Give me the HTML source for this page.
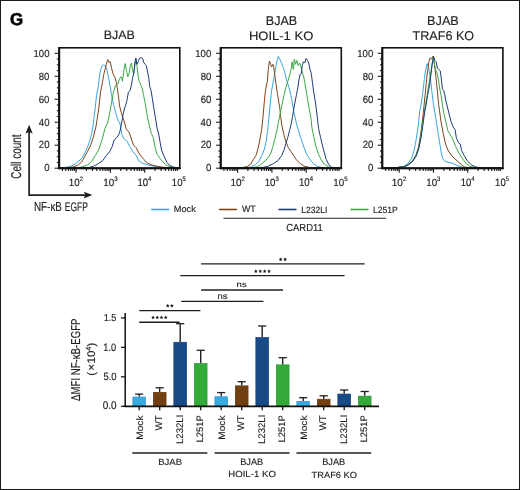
<!DOCTYPE html><html><head><meta charset="utf-8"><style>html,body{margin:0;padding:0;background:#fff;overflow:hidden}svg{display:block;will-change:transform}text{font-family:"Liberation Sans",sans-serif;fill:#231f20;stroke:#231f20;stroke-width:0.15px;text-rendering:geometricPrecision}</style></head><body>
<svg width="520" height="490" viewBox="0 0 520 490">
<rect x="0" y="0" width="520" height="490" fill="#fff"/>
<rect x="0.5" y="0.5" width="519" height="489" fill="none" stroke="#1a1a1a" stroke-width="1"/>
<g id="f_G" transform="matrix(0.9406,0,0,0.9542,0.681,0.932)"><text x="10" y="24.8" font-size="18" font-weight="bold" style="fill:#000;stroke:#000;stroke-width:0.6px">G</text></g>
<line x1="54.6" y1="168.2" x2="59.2" y2="168.2" stroke="#231f20" stroke-width="1.1"/>
<g id="f_yl0_0" transform="matrix(1.0000,0,0,1.0682,0.284,-12.072)"><text x="49.2" y="171.5" font-size="9.6" text-anchor="end">0</text></g>
<line x1="56.8" y1="162.45" x2="59.2" y2="162.45" stroke="#231f20" stroke-width="1.1"/>
<line x1="56.8" y1="156.71" x2="59.2" y2="156.71" stroke="#231f20" stroke-width="1.1"/>
<line x1="56.8" y1="150.96" x2="59.2" y2="150.96" stroke="#231f20" stroke-width="1.1"/>
<line x1="54.6" y1="145.22" x2="59.2" y2="145.22" stroke="#231f20" stroke-width="1.1"/>
<g id="f_yl0_20" transform="matrix(1.0000,0,0,1.0969,0.305,-14.692)"><text x="49.2" y="148.52" font-size="9.6" text-anchor="end">20</text></g>
<line x1="56.8" y1="139.47" x2="59.2" y2="139.47" stroke="#231f20" stroke-width="1.1"/>
<line x1="56.8" y1="133.73" x2="59.2" y2="133.73" stroke="#231f20" stroke-width="1.1"/>
<line x1="56.8" y1="127.98" x2="59.2" y2="127.98" stroke="#231f20" stroke-width="1.1"/>
<line x1="54.6" y1="122.24" x2="59.2" y2="122.24" stroke="#231f20" stroke-width="1.1"/>
<g id="f_yl0_40" transform="matrix(1.0000,0,0,1.0744,0.280,-8.987)"><text x="49.2" y="125.54" font-size="9.6" text-anchor="end">40</text></g>
<line x1="56.8" y1="116.49" x2="59.2" y2="116.49" stroke="#231f20" stroke-width="1.1"/>
<line x1="56.8" y1="110.75" x2="59.2" y2="110.75" stroke="#231f20" stroke-width="1.1"/>
<line x1="56.8" y1="105" x2="59.2" y2="105" stroke="#231f20" stroke-width="1.1"/>
<line x1="54.6" y1="99.26" x2="59.2" y2="99.26" stroke="#231f20" stroke-width="1.1"/>
<g id="f_yl0_60" transform="matrix(1.0000,0,0,1.0623,0.256,-6.023)"><text x="49.2" y="102.56" font-size="9.6" text-anchor="end">60</text></g>
<line x1="56.8" y1="93.51" x2="59.2" y2="93.51" stroke="#231f20" stroke-width="1.1"/>
<line x1="56.8" y1="87.77" x2="59.2" y2="87.77" stroke="#231f20" stroke-width="1.1"/>
<line x1="56.8" y1="82.02" x2="59.2" y2="82.02" stroke="#231f20" stroke-width="1.1"/>
<line x1="54.6" y1="76.28" x2="59.2" y2="76.28" stroke="#231f20" stroke-width="1.1"/>
<g id="f_yl0_80" transform="matrix(1.0000,0,0,1.0652,0.268,-4.799)"><text x="49.2" y="79.58" font-size="9.6" text-anchor="end">80</text></g>
<line x1="56.8" y1="70.53" x2="59.2" y2="70.53" stroke="#231f20" stroke-width="1.1"/>
<line x1="56.8" y1="64.79" x2="59.2" y2="64.79" stroke="#231f20" stroke-width="1.1"/>
<line x1="56.8" y1="59.04" x2="59.2" y2="59.04" stroke="#231f20" stroke-width="1.1"/>
<line x1="54.6" y1="53.3" x2="59.2" y2="53.3" stroke="#231f20" stroke-width="1.1"/>
<g id="f_yl0_100" transform="matrix(1.0000,0,0,1.0646,0.292,-3.258)"><text x="49.2" y="56.6" font-size="9.6" text-anchor="end">100</text></g>
<line x1="62.45" y1="168.3" x2="62.45" y2="170.9" stroke="#231f20" stroke-width="1.15"/>
<line x1="65.77" y1="168.3" x2="65.77" y2="170.9" stroke="#231f20" stroke-width="1.15"/>
<line x1="68.49" y1="168.3" x2="68.49" y2="170.9" stroke="#231f20" stroke-width="1.15"/>
<line x1="70.79" y1="168.3" x2="70.79" y2="170.9" stroke="#231f20" stroke-width="1.15"/>
<line x1="72.78" y1="168.3" x2="72.78" y2="170.9" stroke="#231f20" stroke-width="1.15"/>
<line x1="74.53" y1="168.3" x2="74.53" y2="170.9" stroke="#231f20" stroke-width="1.15"/>
<line x1="76.1" y1="168.3" x2="76.1" y2="172.7" stroke="#231f20" stroke-width="1.15"/>
<line x1="86.43" y1="168.3" x2="86.43" y2="170.9" stroke="#231f20" stroke-width="1.15"/>
<line x1="92.47" y1="168.3" x2="92.47" y2="170.9" stroke="#231f20" stroke-width="1.15"/>
<line x1="96.75" y1="168.3" x2="96.75" y2="170.9" stroke="#231f20" stroke-width="1.15"/>
<line x1="100.07" y1="168.3" x2="100.07" y2="170.9" stroke="#231f20" stroke-width="1.15"/>
<line x1="102.79" y1="168.3" x2="102.79" y2="170.9" stroke="#231f20" stroke-width="1.15"/>
<line x1="105.09" y1="168.3" x2="105.09" y2="170.9" stroke="#231f20" stroke-width="1.15"/>
<line x1="107.08" y1="168.3" x2="107.08" y2="170.9" stroke="#231f20" stroke-width="1.15"/>
<line x1="108.83" y1="168.3" x2="108.83" y2="170.9" stroke="#231f20" stroke-width="1.15"/>
<line x1="110.4" y1="168.3" x2="110.4" y2="172.7" stroke="#231f20" stroke-width="1.15"/>
<line x1="120.73" y1="168.3" x2="120.73" y2="170.9" stroke="#231f20" stroke-width="1.15"/>
<line x1="126.77" y1="168.3" x2="126.77" y2="170.9" stroke="#231f20" stroke-width="1.15"/>
<line x1="131.05" y1="168.3" x2="131.05" y2="170.9" stroke="#231f20" stroke-width="1.15"/>
<line x1="134.37" y1="168.3" x2="134.37" y2="170.9" stroke="#231f20" stroke-width="1.15"/>
<line x1="137.09" y1="168.3" x2="137.09" y2="170.9" stroke="#231f20" stroke-width="1.15"/>
<line x1="139.39" y1="168.3" x2="139.39" y2="170.9" stroke="#231f20" stroke-width="1.15"/>
<line x1="141.38" y1="168.3" x2="141.38" y2="170.9" stroke="#231f20" stroke-width="1.15"/>
<line x1="143.13" y1="168.3" x2="143.13" y2="170.9" stroke="#231f20" stroke-width="1.15"/>
<line x1="144.7" y1="168.3" x2="144.7" y2="172.7" stroke="#231f20" stroke-width="1.15"/>
<line x1="155.03" y1="168.3" x2="155.03" y2="170.9" stroke="#231f20" stroke-width="1.15"/>
<line x1="161.07" y1="168.3" x2="161.07" y2="170.9" stroke="#231f20" stroke-width="1.15"/>
<line x1="165.35" y1="168.3" x2="165.35" y2="170.9" stroke="#231f20" stroke-width="1.15"/>
<line x1="168.67" y1="168.3" x2="168.67" y2="170.9" stroke="#231f20" stroke-width="1.15"/>
<line x1="171.39" y1="168.3" x2="171.39" y2="170.9" stroke="#231f20" stroke-width="1.15"/>
<line x1="173.69" y1="168.3" x2="173.69" y2="170.9" stroke="#231f20" stroke-width="1.15"/>
<line x1="175.68" y1="168.3" x2="175.68" y2="170.9" stroke="#231f20" stroke-width="1.15"/>
<line x1="177.43" y1="168.3" x2="177.43" y2="170.9" stroke="#231f20" stroke-width="1.15"/>
<g id="f_xl0_2" transform="matrix(1.0188,0,0,1.0972,-1.708,-18.315)"><text x="69.2" y="185.9" font-size="9.6">10<tspan font-size="5.9" dy="-4.2">2</tspan></text></g>
<g id="f_xl0_3" transform="matrix(1.0345,0,0,1.0820,-3.872,-15.581)"><text x="103.5" y="185.9" font-size="9.6">10<tspan font-size="5.9" dy="-4.2">3</tspan></text></g>
<g id="f_xl0_4" transform="matrix(0.9986,0,0,1.1327,-0.148,-24.935)"><text x="137.8" y="185.9" font-size="9.6">10<tspan font-size="5.9" dy="-4.2">4</tspan></text></g>
<g id="f_xl0_5" transform="matrix(0.9952,0,0,1.0829,0.605,-15.653)"><text x="172.1" y="185.9" font-size="9.6">10<tspan font-size="5.9" dy="-4.2">5</tspan></text></g>
<polyline points="60,167.8 65.8,167.4 71.1,166.1 75,164.1 78.9,160.9 82.2,158.2 84.8,153 87.4,147.8 90,140 92,132.1 93.9,119 95.2,108 96.5,95.6 98.5,85.2 99.5,76 100.6,69.5 102.4,65.6 103.7,65 105,65.6 106.3,67.5 107.4,72.1 108.7,78.7 110,85.2 111.6,95.6 113.5,104.8 115,110 116,113.8 118,120.4 119.9,123 121.9,134.7 123.8,138.7 127.1,141.3 129.7,146.5 133,151.7 136.2,155.6 138.9,160.9 142.1,163.2 147.3,164.8 152.6,166.1 159.1,167.1 165,167.6 179,167.8" fill="none" stroke="#3AA6DE" stroke-width="1.0" stroke-linejoin="round"/>
<polyline points="60,167.8 66,167.6 72.4,167.1 77.6,165.4 81.5,162.2 84.1,157.6 87.4,151.7 90.7,145.2 93.3,137.3 95.9,126.9 97.6,116.4 98.8,108 99.6,100.9 100.6,91.7 102.4,82.6 103.7,74.7 105,69.5 106.3,64.3 107.4,60.4 107.8,59.5 108.9,62.3 110.2,61.7 111.6,68.2 112.9,73.4 114.8,77.3 116.1,81.3 117.4,89.1 118.7,98.2 119.6,106 121.2,112.5 123.8,120.4 126.4,129.5 129.1,132.1 131.7,140 133.6,145.2 136.2,147.8 138.9,153 141.5,156.9 144.1,159.6 146.7,162.8 151.3,164.8 156.5,166.1 161.7,167.1 168,167.6 179,167.8" fill="none" stroke="#7E451C" stroke-width="1.0" stroke-linejoin="round"/>
<polyline points="60,167.8 70,167.8 77.6,167.7 82.8,166.7 88,164.8 92,160.9 95.2,155.6 98.5,150.4 101.1,142.6 103.1,136 105,128.2 107.6,123 109.6,113.8 110.6,108 111.8,100.9 113.5,91.7 115.5,85.2 117,84 118,83.9 119.3,78.7 121.2,76.7 122.5,81.3 123.8,70.8 125.1,63.6 126.4,70.2 127.8,76.7 129.1,73.4 130.4,65.6 131.4,63 132.7,70.8 133.6,74.1 134.9,65.6 135.9,59.7 136.9,65.6 137.9,74.7 139.2,81.3 140.6,84.5 142.1,87.8 143.4,94.3 145,102.2 146,108 147.3,116.4 149.3,125.6 151.3,133.4 153.2,137.3 155.2,147.8 157.1,154.3 159.8,158.2 163,162.2 166.9,165.4 170.9,167.1 174.8,167.7 179,167.8" fill="none" stroke="#3CA846" stroke-width="1.0" stroke-linejoin="round"/>
<polyline points="60,167.8 80,167.8 89.3,167.4 93.9,166.1 98.5,163.5 102.4,160.9 106.3,155.6 109.6,151.7 112.2,146.5 114.2,140 116.8,137.5 119.4,133.4 121.2,125.6 123.2,113.8 124.6,108 125.8,104.8 127.1,99.6 128.4,92.4 130.1,90.4 131.4,85.2 132.7,77.3 134,72.1 134.9,61.7 135.9,58 136.9,64.3 138.2,61.7 139.5,58.4 141.5,57.5 142.8,59.1 143.7,62.3 145,64.3 146.3,65.6 147.3,70.8 148.7,77.3 149.7,86.5 151,90.4 152.3,98.2 153.5,106 155.2,116.4 157.1,128.2 159.1,136 160.4,143.9 161.7,150.4 164.3,156.9 166.9,162.2 169.6,165.4 173.5,167.1 177.4,167.7 179,167.8" fill="none" stroke="#1E3C78" stroke-width="1.0" stroke-linejoin="round"/>
<rect x="59.2" y="47.8" width="120.6" height="120.5" fill="none" stroke="#111" stroke-width="1.6"/>
<line x1="59.2" y1="47" x2="59.2" y2="169.1" stroke="#111" stroke-width="2"/>
<line x1="58.4" y1="168.3" x2="180.6" y2="168.3" stroke="#111" stroke-width="2"/>
<line x1="216.1" y1="168.2" x2="220.7" y2="168.2" stroke="#231f20" stroke-width="1.1"/>
<g id="f_yl1_0" transform="matrix(1.0000,0,0,1.0640,0.233,-11.366)"><text x="211" y="171.5" font-size="9.6" text-anchor="end">0</text></g>
<line x1="218.3" y1="162.45" x2="220.7" y2="162.45" stroke="#231f20" stroke-width="1.1"/>
<line x1="218.3" y1="156.71" x2="220.7" y2="156.71" stroke="#231f20" stroke-width="1.1"/>
<line x1="218.3" y1="150.96" x2="220.7" y2="150.96" stroke="#231f20" stroke-width="1.1"/>
<line x1="216.1" y1="145.22" x2="220.7" y2="145.22" stroke="#231f20" stroke-width="1.1"/>
<g id="f_yl1_20" transform="matrix(1.0000,0,0,1.0922,0.353,-14.023)"><text x="211" y="148.52" font-size="9.6" text-anchor="end">20</text></g>
<line x1="218.3" y1="139.47" x2="220.7" y2="139.47" stroke="#231f20" stroke-width="1.1"/>
<line x1="218.3" y1="133.73" x2="220.7" y2="133.73" stroke="#231f20" stroke-width="1.1"/>
<line x1="218.3" y1="127.98" x2="220.7" y2="127.98" stroke="#231f20" stroke-width="1.1"/>
<line x1="216.1" y1="122.24" x2="220.7" y2="122.24" stroke="#231f20" stroke-width="1.1"/>
<g id="f_yl1_40" transform="matrix(1.0000,0,0,1.0833,0.246,-10.228)"><text x="211" y="125.54" font-size="9.6" text-anchor="end">40</text></g>
<line x1="218.3" y1="116.49" x2="220.7" y2="116.49" stroke="#231f20" stroke-width="1.1"/>
<line x1="218.3" y1="110.75" x2="220.7" y2="110.75" stroke="#231f20" stroke-width="1.1"/>
<line x1="218.3" y1="105" x2="220.7" y2="105" stroke="#231f20" stroke-width="1.1"/>
<line x1="216.1" y1="99.26" x2="220.7" y2="99.26" stroke="#231f20" stroke-width="1.1"/>
<g id="f_yl1_60" transform="matrix(1.0000,0,0,1.0924,0.309,-9.127)"><text x="211" y="102.56" font-size="9.6" text-anchor="end">60</text></g>
<line x1="218.3" y1="93.51" x2="220.7" y2="93.51" stroke="#231f20" stroke-width="1.1"/>
<line x1="218.3" y1="87.77" x2="220.7" y2="87.77" stroke="#231f20" stroke-width="1.1"/>
<line x1="218.3" y1="82.02" x2="220.7" y2="82.02" stroke="#231f20" stroke-width="1.1"/>
<line x1="216.1" y1="76.28" x2="220.7" y2="76.28" stroke="#231f20" stroke-width="1.1"/>
<g id="f_yl1_80" transform="matrix(1.0000,0,0,1.0833,0.323,-6.229)"><text x="211" y="79.58" font-size="9.6" text-anchor="end">80</text></g>
<line x1="218.3" y1="70.53" x2="220.7" y2="70.53" stroke="#231f20" stroke-width="1.1"/>
<line x1="218.3" y1="64.79" x2="220.7" y2="64.79" stroke="#231f20" stroke-width="1.1"/>
<line x1="218.3" y1="59.04" x2="220.7" y2="59.04" stroke="#231f20" stroke-width="1.1"/>
<line x1="216.1" y1="53.3" x2="220.7" y2="53.3" stroke="#231f20" stroke-width="1.1"/>
<g id="f_yl1_100" transform="matrix(1.0000,0,0,1.0589,0.255,-2.922)"><text x="211" y="56.6" font-size="9.6" text-anchor="end">100</text></g>
<line x1="223.95" y1="168.3" x2="223.95" y2="170.9" stroke="#231f20" stroke-width="1.15"/>
<line x1="227.27" y1="168.3" x2="227.27" y2="170.9" stroke="#231f20" stroke-width="1.15"/>
<line x1="229.99" y1="168.3" x2="229.99" y2="170.9" stroke="#231f20" stroke-width="1.15"/>
<line x1="232.29" y1="168.3" x2="232.29" y2="170.9" stroke="#231f20" stroke-width="1.15"/>
<line x1="234.28" y1="168.3" x2="234.28" y2="170.9" stroke="#231f20" stroke-width="1.15"/>
<line x1="236.03" y1="168.3" x2="236.03" y2="170.9" stroke="#231f20" stroke-width="1.15"/>
<line x1="237.6" y1="168.3" x2="237.6" y2="172.7" stroke="#231f20" stroke-width="1.15"/>
<line x1="247.93" y1="168.3" x2="247.93" y2="170.9" stroke="#231f20" stroke-width="1.15"/>
<line x1="253.97" y1="168.3" x2="253.97" y2="170.9" stroke="#231f20" stroke-width="1.15"/>
<line x1="258.25" y1="168.3" x2="258.25" y2="170.9" stroke="#231f20" stroke-width="1.15"/>
<line x1="261.57" y1="168.3" x2="261.57" y2="170.9" stroke="#231f20" stroke-width="1.15"/>
<line x1="264.29" y1="168.3" x2="264.29" y2="170.9" stroke="#231f20" stroke-width="1.15"/>
<line x1="266.59" y1="168.3" x2="266.59" y2="170.9" stroke="#231f20" stroke-width="1.15"/>
<line x1="268.58" y1="168.3" x2="268.58" y2="170.9" stroke="#231f20" stroke-width="1.15"/>
<line x1="270.33" y1="168.3" x2="270.33" y2="170.9" stroke="#231f20" stroke-width="1.15"/>
<line x1="271.9" y1="168.3" x2="271.9" y2="172.7" stroke="#231f20" stroke-width="1.15"/>
<line x1="282.23" y1="168.3" x2="282.23" y2="170.9" stroke="#231f20" stroke-width="1.15"/>
<line x1="288.27" y1="168.3" x2="288.27" y2="170.9" stroke="#231f20" stroke-width="1.15"/>
<line x1="292.55" y1="168.3" x2="292.55" y2="170.9" stroke="#231f20" stroke-width="1.15"/>
<line x1="295.87" y1="168.3" x2="295.87" y2="170.9" stroke="#231f20" stroke-width="1.15"/>
<line x1="298.59" y1="168.3" x2="298.59" y2="170.9" stroke="#231f20" stroke-width="1.15"/>
<line x1="300.89" y1="168.3" x2="300.89" y2="170.9" stroke="#231f20" stroke-width="1.15"/>
<line x1="302.88" y1="168.3" x2="302.88" y2="170.9" stroke="#231f20" stroke-width="1.15"/>
<line x1="304.63" y1="168.3" x2="304.63" y2="170.9" stroke="#231f20" stroke-width="1.15"/>
<line x1="306.2" y1="168.3" x2="306.2" y2="172.7" stroke="#231f20" stroke-width="1.15"/>
<line x1="316.53" y1="168.3" x2="316.53" y2="170.9" stroke="#231f20" stroke-width="1.15"/>
<line x1="322.57" y1="168.3" x2="322.57" y2="170.9" stroke="#231f20" stroke-width="1.15"/>
<line x1="326.85" y1="168.3" x2="326.85" y2="170.9" stroke="#231f20" stroke-width="1.15"/>
<line x1="330.17" y1="168.3" x2="330.17" y2="170.9" stroke="#231f20" stroke-width="1.15"/>
<line x1="332.89" y1="168.3" x2="332.89" y2="170.9" stroke="#231f20" stroke-width="1.15"/>
<line x1="335.19" y1="168.3" x2="335.19" y2="170.9" stroke="#231f20" stroke-width="1.15"/>
<line x1="337.18" y1="168.3" x2="337.18" y2="170.9" stroke="#231f20" stroke-width="1.15"/>
<line x1="338.93" y1="168.3" x2="338.93" y2="170.9" stroke="#231f20" stroke-width="1.15"/>
<g id="f_xl1_2" transform="matrix(1.0348,0,0,1.0926,-8.339,-17.536)"><text x="230.7" y="185.9" font-size="9.6">10<tspan font-size="5.9" dy="-4.2">2</tspan></text></g>
<g id="f_xl1_3" transform="matrix(1.0051,0,0,1.0944,-1.644,-17.833)"><text x="265" y="185.9" font-size="9.6">10<tspan font-size="5.9" dy="-4.2">3</tspan></text></g>
<g id="f_xl1_4" transform="matrix(1.0159,0,0,1.1755,-5.171,-32.793)"><text x="299.3" y="185.9" font-size="9.6">10<tspan font-size="5.9" dy="-4.2">4</tspan></text></g>
<g id="f_xl1_5" transform="matrix(1.0220,0,0,1.0774,-7.617,-14.715)"><text x="333.6" y="185.9" font-size="9.6">10<tspan font-size="5.9" dy="-4.2">5</tspan></text></g>
<polyline points="221,167.8 235,167.8 246.1,167.7 251.3,166.9 255.3,164.8 259.2,160.9 261.8,155.6 264.4,149.1 266.4,140 267.7,129.5 269,117.8 269.8,108 270.5,100.9 271.6,90.4 272.9,83.9 274.2,76 275.5,68.9 276.8,61.7 278.3,56.4 280,59.5 281.6,63.5 283.6,68.5 285.2,74.1 286.5,80 287.8,83.9 289.1,87.8 290.4,93 291.7,99.6 292.8,106 294.3,113.8 296.3,123 298.9,132.1 301.5,140 304.1,147.8 306.7,154.3 310,159.6 313.3,163.5 317.2,166.3 322.4,167.7 341,167.8" fill="none" stroke="#3AA6DE" stroke-width="1.0" stroke-linejoin="round"/>
<polyline points="221,167.8 230,167.8 237,167.7 243.5,167.4 247.4,166.3 250.7,164.1 253.3,159.6 255.9,155.6 257.9,149.1 259.8,140 261.6,129.5 262.8,119.1 263.6,110 264.6,98.2 265.7,89.1 267.3,81.3 268.3,69.5 269.4,61 270.7,64.3 271.6,66.9 272.9,64.3 273.8,67.6 274.9,76 276.2,85.2 277.5,94.3 278.8,102.2 279.8,108 280.6,116.4 281.9,125.6 283.9,134.7 285.8,141.3 288.4,147.8 291.1,151.7 293.7,155.6 296.3,159.6 300.2,163.5 304.1,166.1 309.3,167.4 314.6,167.7 341,167.8" fill="none" stroke="#7E451C" stroke-width="1.0" stroke-linejoin="round"/>
<polyline points="221,167.8 240,167.8 251.3,167.7 256.6,166.9 260.5,164.8 265.1,160.9 268.3,157.6 270.9,153 272.9,146.5 274.9,138.7 276.8,130.8 278.8,120.4 280.6,111.5 282.3,103 283.9,95.6 285.8,87.8 287.8,81.3 289.8,74.7 291.1,69.5 292.1,61.7 293.4,69.5 294.3,59.1 295.6,64.3 296.9,60.4 298.2,65.6 299.6,63 300.9,66.9 302.2,72.1 303.5,76 304.8,82.6 306.1,90.4 307.4,98.2 308.7,106 310.7,116.4 312,128.2 313.9,137.3 315.9,146.5 318.5,154.3 321.1,159.6 324.4,164.1 328.3,166.7 331.6,167.7 341,167.8" fill="none" stroke="#3CA846" stroke-width="1.0" stroke-linejoin="round"/>
<polyline points="221,167.8 250,167.8 263.1,167.4 268.3,166.1 273.6,163.5 278.1,160.4 281.6,155.6 283.9,150.4 285.8,143.9 287.8,137.3 289.8,129.5 291.1,124.3 292.4,117.8 293.4,111.2 294.3,106 295,102.2 296.3,95.6 297.6,89.1 298.9,80 300.2,74.1 301.5,73.4 302.2,65.6 303.5,61.7 304.8,63 306.1,58.4 307.4,60.4 308.7,63 310,69.5 311.3,73.4 312.6,83.9 313.9,93 315.2,100.9 316.2,108 317.2,116.4 318.5,128.2 320.5,137.3 322.4,145.2 324.4,153 326.3,159.6 328.9,164.8 331.6,167.1 334.2,167.7 341,167.8" fill="none" stroke="#1E3C78" stroke-width="1.0" stroke-linejoin="round"/>
<rect x="220.7" y="47.8" width="120.6" height="120.5" fill="none" stroke="#111" stroke-width="1.6"/>
<line x1="220.7" y1="47" x2="220.7" y2="169.1" stroke="#111" stroke-width="2"/>
<line x1="219.9" y1="168.3" x2="342.1" y2="168.3" stroke="#111" stroke-width="2"/>
<line x1="377.7" y1="168.2" x2="382.3" y2="168.2" stroke="#231f20" stroke-width="1.1"/>
<g id="f_yl2_0" transform="matrix(1.0000,0,0,1.0640,0.233,-11.366)"><text x="373" y="171.5" font-size="9.6" text-anchor="end">0</text></g>
<line x1="379.9" y1="162.45" x2="382.3" y2="162.45" stroke="#231f20" stroke-width="1.1"/>
<line x1="379.9" y1="156.71" x2="382.3" y2="156.71" stroke="#231f20" stroke-width="1.1"/>
<line x1="379.9" y1="150.96" x2="382.3" y2="150.96" stroke="#231f20" stroke-width="1.1"/>
<line x1="377.7" y1="145.22" x2="382.3" y2="145.22" stroke="#231f20" stroke-width="1.1"/>
<g id="f_yl2_20" transform="matrix(1.0000,0,0,1.0922,0.353,-14.023)"><text x="373" y="148.52" font-size="9.6" text-anchor="end">20</text></g>
<line x1="379.9" y1="139.47" x2="382.3" y2="139.47" stroke="#231f20" stroke-width="1.1"/>
<line x1="379.9" y1="133.73" x2="382.3" y2="133.73" stroke="#231f20" stroke-width="1.1"/>
<line x1="379.9" y1="127.98" x2="382.3" y2="127.98" stroke="#231f20" stroke-width="1.1"/>
<line x1="377.7" y1="122.24" x2="382.3" y2="122.24" stroke="#231f20" stroke-width="1.1"/>
<g id="f_yl2_40" transform="matrix(1.0000,0,0,1.0833,0.246,-10.228)"><text x="373" y="125.54" font-size="9.6" text-anchor="end">40</text></g>
<line x1="379.9" y1="116.49" x2="382.3" y2="116.49" stroke="#231f20" stroke-width="1.1"/>
<line x1="379.9" y1="110.75" x2="382.3" y2="110.75" stroke="#231f20" stroke-width="1.1"/>
<line x1="379.9" y1="105" x2="382.3" y2="105" stroke="#231f20" stroke-width="1.1"/>
<line x1="377.7" y1="99.26" x2="382.3" y2="99.26" stroke="#231f20" stroke-width="1.1"/>
<g id="f_yl2_60" transform="matrix(1.0000,0,0,1.0924,0.309,-9.127)"><text x="373" y="102.56" font-size="9.6" text-anchor="end">60</text></g>
<line x1="379.9" y1="93.51" x2="382.3" y2="93.51" stroke="#231f20" stroke-width="1.1"/>
<line x1="379.9" y1="87.77" x2="382.3" y2="87.77" stroke="#231f20" stroke-width="1.1"/>
<line x1="379.9" y1="82.02" x2="382.3" y2="82.02" stroke="#231f20" stroke-width="1.1"/>
<line x1="377.7" y1="76.28" x2="382.3" y2="76.28" stroke="#231f20" stroke-width="1.1"/>
<g id="f_yl2_80" transform="matrix(1.0000,0,0,1.0833,0.323,-6.229)"><text x="373" y="79.58" font-size="9.6" text-anchor="end">80</text></g>
<line x1="379.9" y1="70.53" x2="382.3" y2="70.53" stroke="#231f20" stroke-width="1.1"/>
<line x1="379.9" y1="64.79" x2="382.3" y2="64.79" stroke="#231f20" stroke-width="1.1"/>
<line x1="379.9" y1="59.04" x2="382.3" y2="59.04" stroke="#231f20" stroke-width="1.1"/>
<line x1="377.7" y1="53.3" x2="382.3" y2="53.3" stroke="#231f20" stroke-width="1.1"/>
<g id="f_yl2_100" transform="matrix(1.0000,0,0,1.0589,0.255,-2.922)"><text x="373" y="56.6" font-size="9.6" text-anchor="end">100</text></g>
<line x1="385.55" y1="168.3" x2="385.55" y2="170.9" stroke="#231f20" stroke-width="1.15"/>
<line x1="388.87" y1="168.3" x2="388.87" y2="170.9" stroke="#231f20" stroke-width="1.15"/>
<line x1="391.59" y1="168.3" x2="391.59" y2="170.9" stroke="#231f20" stroke-width="1.15"/>
<line x1="393.89" y1="168.3" x2="393.89" y2="170.9" stroke="#231f20" stroke-width="1.15"/>
<line x1="395.88" y1="168.3" x2="395.88" y2="170.9" stroke="#231f20" stroke-width="1.15"/>
<line x1="397.63" y1="168.3" x2="397.63" y2="170.9" stroke="#231f20" stroke-width="1.15"/>
<line x1="399.2" y1="168.3" x2="399.2" y2="172.7" stroke="#231f20" stroke-width="1.15"/>
<line x1="409.53" y1="168.3" x2="409.53" y2="170.9" stroke="#231f20" stroke-width="1.15"/>
<line x1="415.57" y1="168.3" x2="415.57" y2="170.9" stroke="#231f20" stroke-width="1.15"/>
<line x1="419.85" y1="168.3" x2="419.85" y2="170.9" stroke="#231f20" stroke-width="1.15"/>
<line x1="423.17" y1="168.3" x2="423.17" y2="170.9" stroke="#231f20" stroke-width="1.15"/>
<line x1="425.89" y1="168.3" x2="425.89" y2="170.9" stroke="#231f20" stroke-width="1.15"/>
<line x1="428.19" y1="168.3" x2="428.19" y2="170.9" stroke="#231f20" stroke-width="1.15"/>
<line x1="430.18" y1="168.3" x2="430.18" y2="170.9" stroke="#231f20" stroke-width="1.15"/>
<line x1="431.93" y1="168.3" x2="431.93" y2="170.9" stroke="#231f20" stroke-width="1.15"/>
<line x1="433.5" y1="168.3" x2="433.5" y2="172.7" stroke="#231f20" stroke-width="1.15"/>
<line x1="443.83" y1="168.3" x2="443.83" y2="170.9" stroke="#231f20" stroke-width="1.15"/>
<line x1="449.87" y1="168.3" x2="449.87" y2="170.9" stroke="#231f20" stroke-width="1.15"/>
<line x1="454.15" y1="168.3" x2="454.15" y2="170.9" stroke="#231f20" stroke-width="1.15"/>
<line x1="457.47" y1="168.3" x2="457.47" y2="170.9" stroke="#231f20" stroke-width="1.15"/>
<line x1="460.19" y1="168.3" x2="460.19" y2="170.9" stroke="#231f20" stroke-width="1.15"/>
<line x1="462.49" y1="168.3" x2="462.49" y2="170.9" stroke="#231f20" stroke-width="1.15"/>
<line x1="464.48" y1="168.3" x2="464.48" y2="170.9" stroke="#231f20" stroke-width="1.15"/>
<line x1="466.23" y1="168.3" x2="466.23" y2="170.9" stroke="#231f20" stroke-width="1.15"/>
<line x1="467.8" y1="168.3" x2="467.8" y2="172.7" stroke="#231f20" stroke-width="1.15"/>
<line x1="478.13" y1="168.3" x2="478.13" y2="170.9" stroke="#231f20" stroke-width="1.15"/>
<line x1="484.17" y1="168.3" x2="484.17" y2="170.9" stroke="#231f20" stroke-width="1.15"/>
<line x1="488.45" y1="168.3" x2="488.45" y2="170.9" stroke="#231f20" stroke-width="1.15"/>
<line x1="491.77" y1="168.3" x2="491.77" y2="170.9" stroke="#231f20" stroke-width="1.15"/>
<line x1="494.49" y1="168.3" x2="494.49" y2="170.9" stroke="#231f20" stroke-width="1.15"/>
<line x1="496.79" y1="168.3" x2="496.79" y2="170.9" stroke="#231f20" stroke-width="1.15"/>
<line x1="498.78" y1="168.3" x2="498.78" y2="170.9" stroke="#231f20" stroke-width="1.15"/>
<line x1="500.53" y1="168.3" x2="500.53" y2="170.9" stroke="#231f20" stroke-width="1.15"/>
<g id="f_xl2_2" transform="matrix(1.0432,0,0,1.0687,-17.457,-13.086)"><text x="392.3" y="185.9" font-size="9.6">10<tspan font-size="5.9" dy="-4.2">2</tspan></text></g>
<g id="f_xl2_3" transform="matrix(1.0153,0,0,1.0879,-6.847,-16.678)"><text x="426.6" y="185.9" font-size="9.6">10<tspan font-size="5.9" dy="-4.2">3</tspan></text></g>
<g id="f_xl2_4" transform="matrix(0.9887,0,0,1.1216,5.040,-22.869)"><text x="460.9" y="185.9" font-size="9.6">10<tspan font-size="5.9" dy="-4.2">4</tspan></text></g>
<g id="f_xl2_5" transform="matrix(0.9915,0,0,1.1112,4.125,-20.897)"><text x="495.2" y="185.9" font-size="9.6">10<tspan font-size="5.9" dy="-4.2">5</tspan></text></g>
<polyline points="383,167.8 395,167.7 403.3,166.7 407.8,163.5 411.8,158.2 414.4,149.1 416.3,138.7 418.3,125.6 419.6,112 420.8,106 422.4,95.6 424.4,78.7 425.7,69.5 427.2,63.6 428.5,66.9 429.6,73.4 430.9,82.6 432.2,94.3 433.5,104.8 434.4,110 435.9,119.1 437.9,132.1 439.8,143.9 441.1,151.7 442.5,158.2 445.2,161.5 449.1,162.4 453.1,163.5 457,165.4 462.2,167.1 468,167.7 503,167.8" fill="none" stroke="#3AA6DE" stroke-width="1.0" stroke-linejoin="round"/>
<polyline points="383,167.8 395,167.7 403.9,166.7 407.8,164.8 412.4,160.9 415.7,155.6 418.3,147.8 420.2,137.3 422.2,123 423.6,110 425,95.6 426.3,82.6 427.6,70.8 428.9,61.7 430.2,57.8 431.6,59.1 432.9,56.4 434.2,61.7 435.1,69.5 436.1,78.7 437.4,91.7 438.7,104.8 439.7,112 440.9,121 443.2,133.5 445.5,144 448.4,151 451.5,155.5 455,159 457.3,160.9 461.2,164.5 464.8,167.1 470,167.7 503,167.8" fill="none" stroke="#7E451C" stroke-width="1.0" stroke-linejoin="round"/>
<polyline points="383,167.8 396,167.7 404,166.8 408,165 412.6,161.2 416,156 418.6,148.5 420.6,138 422.6,124 424.2,112 425.3,106 427,95.6 428.9,83.9 430.9,72.1 432.2,63 433.2,58.4 434.6,65.6 435.9,70.8 437.2,73.4 438.5,80 439.8,89.1 441.1,95.6 442.3,104 443.9,113.8 445.9,121.7 447.8,130.8 450.4,134.7 453.1,140 455.7,146.5 458.9,153 462.2,158.2 466.1,163.5 470,166.3 474,167.4 480,167.8 503,167.8" fill="none" stroke="#3CA846" stroke-width="1.0" stroke-linejoin="round"/>
<polyline points="383,167.8 396,167.7 404.2,166.8 408.2,165 412.8,161.2 416.2,156 418.8,148.5 421,138 423,124 424.7,112 425.9,106 427.6,95.6 429.6,85.2 430.9,74.7 432.2,64.3 433.5,56.4 434.8,60.4 436.1,61.7 437.4,68.2 438.7,69.5 440.3,70.8 441.3,78.7 442.4,89.1 443.7,90.4 444.6,94.3 445.9,100.9 447.4,107 449.1,113.8 451.1,121.7 453.1,126.9 455,129.5 456.3,137.3 458.3,142.6 460.2,143.9 461.6,150.4 464.2,155.6 467.4,160.9 471.3,164.8 475.3,166.7 479.2,167.7 503,167.8" fill="none" stroke="#1E3C78" stroke-width="1.0" stroke-linejoin="round"/>
<rect x="382.3" y="47.8" width="120.6" height="120.5" fill="none" stroke="#111" stroke-width="1.6"/>
<line x1="382.3" y1="47" x2="382.3" y2="169.1" stroke="#111" stroke-width="2"/>
<line x1="381.5" y1="168.3" x2="503.7" y2="168.3" stroke="#111" stroke-width="2"/>
<g id="f_t1" transform="matrix(1.0044,0,0,0.9823,3.257,0.173)"><text x="100" y="40" font-size="12.4">BJAB</text></g>
<g id="f_t2a" transform="matrix(1.0103,0,0,1.0340,3.119,-0.478)"><text x="260" y="24.4" font-size="12.4">BJAB</text></g>
<g id="f_t2b" transform="matrix(1.0500,0,0,0.9901,-13.579,0.139)"><text x="250" y="40.3" font-size="12.4">HOIL-1 KO</text></g>
<g id="f_t3a" transform="matrix(1.0256,0,0,1.0159,-3.705,-0.271)"><text x="420" y="24.4" font-size="12.4">BJAB</text></g>
<g id="f_t3b" transform="matrix(1.0160,0,0,1.0303,-4.023,-1.102)"><text x="410" y="40.3" font-size="12.4">TRAF6 KO</text></g>
<path d="M29.1,130 L29.1,195.1 L87,195.1" fill="none" stroke="#231f20" stroke-width="1.7"/>
<path d="M29.1,124.8 L25.5,133.5 L29.1,131.9 L32.7,133.5 Z" fill="#231f20"/>
<path d="M92.4,195.1 L83.8,191.7 L85.4,195.1 L83.8,198.5 Z" fill="#231f20"/>
<g id="f_cell" transform="matrix(1.0838,0,0,0.7627,-2.272,42.903)"><text transform="translate(21.5,178) rotate(-90)" font-size="13">Cell count</text></g>
<g id="f_nfkb" transform="matrix(0.7838,0,0,1.0339,7.295,-7.134)"><text x="34" y="211" font-size="12.6">NF-κB</text></g>
<g id="f_egfp" transform="matrix(0.6763,0,0,0.9936,21.522,0.907)"><text x="64" y="211" font-size="12.6">EGFP</text></g>
<line x1="151.2" y1="209.5" x2="169.2" y2="209.5" stroke="#3AA6DE" stroke-width="1.6"/>
<g id="f_legmock" transform="matrix(1.0238,0,0,1.0155,-4.717,-3.611)"><text x="174.3" y="212.4" font-size="9">Mock</text></g>
<line x1="219" y1="209.5" x2="237" y2="209.5" stroke="#7E451C" stroke-width="1.6"/>
<g id="f_legwt" transform="matrix(0.9834,0,0,1.0277,3.977,-6.224)"><text x="242" y="212.4" font-size="9">WT</text></g>
<line x1="278.5" y1="209.5" x2="296.5" y2="209.5" stroke="#1E3C78" stroke-width="1.6"/>
<g id="f_legl232li" transform="matrix(0.9495,0,0,1.0070,14.690,-1.280)"><text x="301.9" y="212.4" font-size="9">L232LI</text></g>
<line x1="350.5" y1="209.5" x2="368.5" y2="209.5" stroke="#3CA846" stroke-width="1.6"/>
<g id="f_legl251p" transform="matrix(0.9606,0,0,1.0184,14.203,-3.496)"><text x="373.4" y="212.4" font-size="9">L251P</text></g>
<line x1="223.5" y1="218.2" x2="386" y2="218.2" stroke="#231f20" stroke-width="1.1"/>
<g id="f_card" transform="matrix(0.9855,0,0,1.0577,4.324,-13.873)"><text x="286" y="231.3" font-size="9.6">CARD11</text></g>
<line x1="125.2" y1="313" x2="125.2" y2="407" stroke="#111" stroke-width="1.5"/>
<line x1="121.0" y1="406.3" x2="125.2" y2="406.3" stroke="#111" stroke-width="1.3"/>
<g id="f_by0.0" transform="matrix(1.0374,0,0,1.1621,-4.303,-66.551)"><text x="116.6" y="409.5" font-size="9.6" text-anchor="end">0.0</text></g>
<line x1="121.0" y1="376.85" x2="125.2" y2="376.85" stroke="#111" stroke-width="1.3"/>
<g id="f_by5.0" transform="matrix(0.9926,0,0,1.0864,0.937,-33.382)"><text x="116.6" y="380.05" font-size="9.6" text-anchor="end">5.0</text></g>
<line x1="121.0" y1="347.4" x2="125.2" y2="347.4" stroke="#111" stroke-width="1.3"/>
<g id="f_by1.0" transform="matrix(0.9639,0,0,1.1259,3.826,-44.096)"><text x="116.6" y="350.6" font-size="9.6" text-anchor="end">1.0</text></g>
<line x1="121.0" y1="317.95" x2="125.2" y2="317.95" stroke="#111" stroke-width="1.3"/>
<g id="f_by1.5" transform="matrix(0.9522,0,0,1.0562,5.336,-18.529)"><text x="116.6" y="321.15" font-size="9.6" text-anchor="end">1.5</text></g>
<g id="f_dmfi" transform="matrix(1.0787,0,0,0.8021,-6.265,80.065)"><text transform="translate(80,400) rotate(-90)" font-size="12">ΔMFI NF-κB-EGFP</text></g>
<g id="f_x10" transform="matrix(0.9237,0,0,0.9559,6.984,17.219)"><text transform="translate(95,375) rotate(-90)" font-size="12">(<tspan dx="1.2">×</tspan><tspan dx="0.6">10</tspan><tspan font-size="8" dy="-4.5">4</tspan><tspan dy="4.5">)</tspan></text></g>
<line x1="139.2" y1="394.1" x2="139.2" y2="396.7" stroke="#231f20" stroke-width="1.4"/>
<line x1="135.1" y1="394.1" x2="143.3" y2="394.1" stroke="#231f20" stroke-width="1.3"/>
<rect x="132.85" y="397.05" width="12.7" height="9.6" fill="#38AAE2" stroke="#2E96CF" stroke-width="0.7"/>
<line x1="139.2" y1="406.3" x2="139.2" y2="410.3" stroke="#111" stroke-width="1.3"/>
<g id="f_bl0" transform="matrix(0.9364,0,0,1.0124,9.013,-5.050)"><text transform="translate(142.6,415.4) rotate(-90)" font-size="10" text-anchor="end">Mock</text></g>
<line x1="159.7" y1="387.8" x2="159.7" y2="392" stroke="#231f20" stroke-width="1.4"/>
<line x1="155.6" y1="387.8" x2="163.8" y2="387.8" stroke="#231f20" stroke-width="1.3"/>
<rect x="153.35" y="392.35" width="12.7" height="14.3" fill="#723F11" stroke="#5E330C" stroke-width="0.7"/>
<line x1="159.7" y1="406.3" x2="159.7" y2="410.3" stroke="#111" stroke-width="1.3"/>
<g id="f_bl1" transform="matrix(0.9802,0,0,0.9864,2.339,5.449)"><text transform="translate(163.1,415.4) rotate(-90)" font-size="10" text-anchor="end">WT</text></g>
<line x1="180.2" y1="323.7" x2="180.2" y2="341.9" stroke="#231f20" stroke-width="1.4"/>
<line x1="176.1" y1="323.7" x2="184.3" y2="323.7" stroke="#231f20" stroke-width="1.3"/>
<rect x="173.85" y="342.25" width="12.7" height="64.4" fill="#174A86" stroke="#143F74" stroke-width="0.7"/>
<line x1="180.2" y1="406.3" x2="180.2" y2="410.3" stroke="#111" stroke-width="1.3"/>
<g id="f_bl2" transform="matrix(0.9619,0,0,0.9588,6.720,16.344)"><text transform="translate(183.6,415.4) rotate(-90)" font-size="10" text-anchor="end">L232LI</text></g>
<line x1="200.7" y1="350.3" x2="200.7" y2="363.2" stroke="#231f20" stroke-width="1.4"/>
<line x1="196.6" y1="350.3" x2="204.8" y2="350.3" stroke="#231f20" stroke-width="1.3"/>
<rect x="194.35" y="363.55" width="12.7" height="43.1" fill="#34AA3A" stroke="#2C9632" stroke-width="0.7"/>
<line x1="200.7" y1="406.3" x2="200.7" y2="410.3" stroke="#111" stroke-width="1.3"/>
<g id="f_bl3" transform="matrix(0.9448,0,0,0.9439,10.320,23.180)"><text transform="translate(204.1,415.4) rotate(-90)" font-size="10" text-anchor="end">L251P</text></g>
<line x1="221.2" y1="392.6" x2="221.2" y2="396.4" stroke="#231f20" stroke-width="1.4"/>
<line x1="217.1" y1="392.6" x2="225.3" y2="392.6" stroke="#231f20" stroke-width="1.3"/>
<rect x="214.85" y="396.75" width="12.7" height="9.9" fill="#38AAE2" stroke="#2E96CF" stroke-width="0.7"/>
<line x1="221.2" y1="406.3" x2="221.2" y2="410.3" stroke="#111" stroke-width="1.3"/>
<g id="f_bl4" transform="matrix(0.9364,0,0,1.0124,14.226,-5.050)"><text transform="translate(224.6,415.4) rotate(-90)" font-size="10" text-anchor="end">Mock</text></g>
<line x1="241.7" y1="381.7" x2="241.7" y2="385.5" stroke="#231f20" stroke-width="1.4"/>
<line x1="237.6" y1="381.7" x2="245.8" y2="381.7" stroke="#231f20" stroke-width="1.3"/>
<rect x="235.35" y="385.85" width="12.7" height="20.8" fill="#723F11" stroke="#5E330C" stroke-width="0.7"/>
<line x1="241.7" y1="406.3" x2="241.7" y2="410.3" stroke="#111" stroke-width="1.3"/>
<g id="f_bl5" transform="matrix(0.9802,0,0,0.9864,3.961,5.449)"><text transform="translate(245.1,415.4) rotate(-90)" font-size="10" text-anchor="end">WT</text></g>
<line x1="262.2" y1="326" x2="262.2" y2="337.1" stroke="#231f20" stroke-width="1.4"/>
<line x1="258.1" y1="326" x2="266.3" y2="326" stroke="#231f20" stroke-width="1.3"/>
<rect x="255.85" y="337.45" width="12.7" height="69.2" fill="#174A86" stroke="#143F74" stroke-width="0.7"/>
<line x1="262.2" y1="406.3" x2="262.2" y2="410.3" stroke="#111" stroke-width="1.3"/>
<g id="f_bl6" transform="matrix(0.9619,0,0,0.9588,9.849,16.344)"><text transform="translate(265.6,415.4) rotate(-90)" font-size="10" text-anchor="end">L232LI</text></g>
<line x1="282.7" y1="357.7" x2="282.7" y2="364.5" stroke="#231f20" stroke-width="1.4"/>
<line x1="278.6" y1="357.7" x2="286.8" y2="357.7" stroke="#231f20" stroke-width="1.3"/>
<rect x="276.35" y="364.85" width="12.7" height="41.8" fill="#34AA3A" stroke="#2C9632" stroke-width="0.7"/>
<line x1="282.7" y1="406.3" x2="282.7" y2="410.3" stroke="#111" stroke-width="1.3"/>
<g id="f_bl7" transform="matrix(0.9448,0,0,0.9439,14.842,23.180)"><text transform="translate(286.1,415.4) rotate(-90)" font-size="10" text-anchor="end">L251P</text></g>
<line x1="303.2" y1="397.7" x2="303.2" y2="401" stroke="#231f20" stroke-width="1.4"/>
<line x1="299.1" y1="397.7" x2="307.3" y2="397.7" stroke="#231f20" stroke-width="1.3"/>
<rect x="296.85" y="401.35" width="12.7" height="5.3" fill="#38AAE2" stroke="#2E96CF" stroke-width="0.7"/>
<line x1="303.2" y1="406.3" x2="303.2" y2="410.3" stroke="#111" stroke-width="1.3"/>
<g id="f_bl8" transform="matrix(0.9364,0,0,1.0124,19.440,-5.050)"><text transform="translate(306.6,415.4) rotate(-90)" font-size="10" text-anchor="end">Mock</text></g>
<line x1="323.7" y1="395.8" x2="323.7" y2="398.9" stroke="#231f20" stroke-width="1.4"/>
<line x1="319.6" y1="395.8" x2="327.8" y2="395.8" stroke="#231f20" stroke-width="1.3"/>
<rect x="317.35" y="399.25" width="12.7" height="7.4" fill="#723F11" stroke="#5E330C" stroke-width="0.7"/>
<line x1="323.7" y1="406.3" x2="323.7" y2="410.3" stroke="#111" stroke-width="1.3"/>
<g id="f_bl9" transform="matrix(0.9802,0,0,0.9864,5.583,5.449)"><text transform="translate(327.1,415.4) rotate(-90)" font-size="10" text-anchor="end">WT</text></g>
<line x1="344.2" y1="390" x2="344.2" y2="393.7" stroke="#231f20" stroke-width="1.4"/>
<line x1="340.1" y1="390" x2="348.3" y2="390" stroke="#231f20" stroke-width="1.3"/>
<rect x="337.85" y="394.05" width="12.7" height="12.6" fill="#174A86" stroke="#143F74" stroke-width="0.7"/>
<line x1="344.2" y1="406.3" x2="344.2" y2="410.3" stroke="#111" stroke-width="1.3"/>
<g id="f_bl10" transform="matrix(0.9619,0,0,0.9588,12.977,16.344)"><text transform="translate(347.6,415.4) rotate(-90)" font-size="10" text-anchor="end">L232LI</text></g>
<line x1="364.7" y1="391.5" x2="364.7" y2="395.8" stroke="#231f20" stroke-width="1.4"/>
<line x1="360.6" y1="391.5" x2="368.8" y2="391.5" stroke="#231f20" stroke-width="1.3"/>
<rect x="358.35" y="396.15" width="12.7" height="10.5" fill="#34AA3A" stroke="#2C9632" stroke-width="0.7"/>
<line x1="364.7" y1="406.3" x2="364.7" y2="410.3" stroke="#111" stroke-width="1.3"/>
<g id="f_bl11" transform="matrix(0.9448,0,0,0.9439,19.365,23.180)"><text transform="translate(368.1,415.4) rotate(-90)" font-size="10" text-anchor="end">L251P</text></g>
<line x1="124.5" y1="406.3" x2="379" y2="406.3" stroke="#111" stroke-width="1.8"/>
<line x1="139.2" y1="322.3" x2="179.6" y2="322.3" stroke="#231f20" stroke-width="1.4"/>
<polygon points="153.05,315.55 153.64,316.69 154.9,316.9 154,317.81 154.2,319.08 153.05,318.5 151.9,319.08 152.1,317.81 151.2,316.9 152.46,316.69" fill="#231f20"/>
<polygon points="157.28,315.55 157.87,316.69 159.14,316.9 158.23,317.81 158.43,319.08 157.28,318.5 156.14,319.08 156.33,317.81 155.43,316.9 156.7,316.69" fill="#231f20"/>
<polygon points="161.52,315.55 162.1,316.69 163.37,316.9 162.47,317.81 162.66,319.08 161.52,318.5 160.37,319.08 160.57,317.81 159.66,316.9 160.93,316.69" fill="#231f20"/>
<polygon points="165.75,315.55 166.34,316.69 167.6,316.9 166.7,317.81 166.9,319.08 165.75,318.5 164.6,319.08 164.8,317.81 163.9,316.9 165.16,316.69" fill="#231f20"/>
<line x1="139.2" y1="310.6" x2="200.4" y2="310.6" stroke="#231f20" stroke-width="1.4"/>
<polygon points="167.75,303.85 168.34,304.99 169.6,305.2 168.7,306.11 168.9,307.38 167.75,306.8 166.6,307.38 166.8,306.11 165.9,305.2 167.16,304.99" fill="#231f20"/>
<polygon points="171.85,303.85 172.44,304.99 173.7,305.2 172.8,306.11 173,307.38 171.85,306.8 170.7,307.38 170.9,306.11 170,305.2 171.26,304.99" fill="#231f20"/>
<line x1="181.2" y1="301.4" x2="263.4" y2="301.4" stroke="#231f20" stroke-width="1.4"/>
<g id="f_sig2" transform="matrix(1.0268,0,0,0.9249,-6.302,22.188)"><text x="217.9" y="299.1" font-size="9.3">ns</text></g>
<line x1="201.1" y1="290" x2="283" y2="290" stroke="#231f20" stroke-width="1.4"/>
<g id="f_sig3" transform="matrix(1.0298,0,0,0.8526,-7.559,41.918)"><text x="237.1" y="287.5" font-size="9.3">ns</text></g>
<line x1="180.3" y1="275.6" x2="344.6" y2="275.6" stroke="#231f20" stroke-width="1.4"/>
<polygon points="255.85,269.35 256.44,270.49 257.7,270.7 256.8,271.61 257,272.88 255.85,272.3 254.7,272.88 254.9,271.61 254,270.7 255.26,270.49" fill="#231f20"/>
<polygon points="260.25,269.35 260.84,270.49 262.1,270.7 261.2,271.61 261.4,272.88 260.25,272.3 259.1,272.88 259.3,271.61 258.4,270.7 259.66,270.49" fill="#231f20"/>
<polygon points="264.65,269.35 265.24,270.49 266.5,270.7 265.6,271.61 265.8,272.88 264.65,272.3 263.5,272.88 263.7,271.61 262.8,270.7 264.06,270.49" fill="#231f20"/>
<polygon points="269.05,269.35 269.64,270.49 270.9,270.7 270,271.61 270.2,272.88 269.05,272.3 267.9,272.88 268.1,271.61 267.2,270.7 268.46,270.49" fill="#231f20"/>
<line x1="201.1" y1="263.9" x2="364.7" y2="263.9" stroke="#231f20" stroke-width="1.4"/>
<polygon points="280.65,257.45 281.24,258.59 282.5,258.8 281.6,259.71 281.8,260.98 280.65,260.4 279.5,260.98 279.7,259.71 278.8,258.8 280.06,258.59" fill="#231f20"/>
<polygon points="285.15,257.45 285.74,258.59 287,258.8 286.1,259.71 286.3,260.98 285.15,260.4 284,260.98 284.2,259.71 283.3,258.8 284.56,258.59" fill="#231f20"/>
<line x1="132.3" y1="453" x2="207.3" y2="453" stroke="#231f20" stroke-width="1.3"/>
<line x1="214.6" y1="453" x2="289.5" y2="453" stroke="#231f20" stroke-width="1.3"/>
<line x1="296.5" y1="453" x2="371.2" y2="453" stroke="#231f20" stroke-width="1.3"/>
<g id="f_g1" transform="matrix(1.0054,0,0,0.9645,-0.683,15.863)"><text x="158" y="466" font-size="9.5">BJAB</text></g>
<g id="f_g2a" transform="matrix(0.9716,0,0,0.9969,6.987,0.927)"><text x="240" y="466" font-size="9.5">BJAB</text></g>
<g id="f_g2b" transform="matrix(1.0149,0,0,0.9319,-3.166,31.883)"><text x="228" y="477.7" font-size="9.5">HOIL-1 KO</text></g>
<g id="f_g3a" transform="matrix(0.9716,0,0,0.9969,9.313,0.927)"><text x="322" y="466" font-size="9.5">BJAB</text></g>
<g id="f_g3b" transform="matrix(0.9784,0,0,0.9286,7.316,34.252)"><text x="311" y="477.7" font-size="9.5">TRAF6 KO</text></g>
</svg></body></html>
